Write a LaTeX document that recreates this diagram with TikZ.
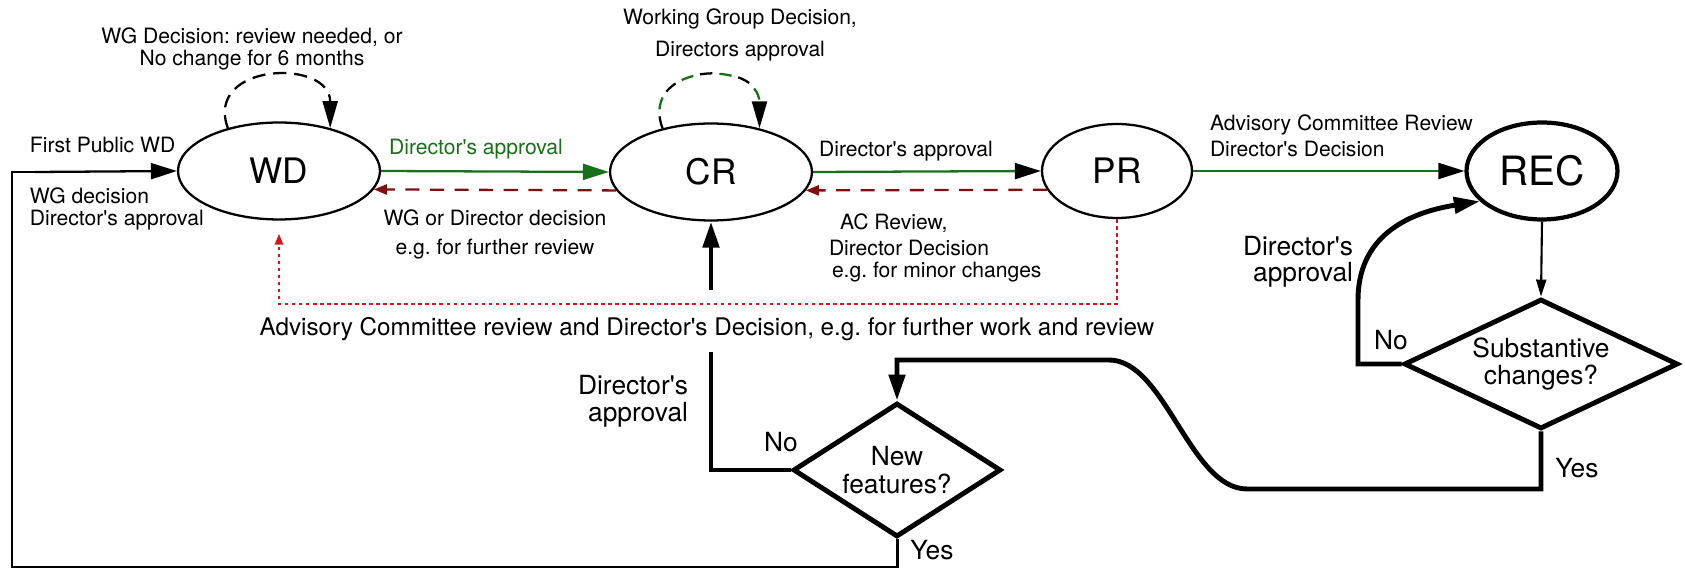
\documentclass[tikz,border=0pt]{standalone}
\usepackage{fontspec}
\setmainfont{TeX Gyre Heros}[Ligatures=TeXOff]
\usepackage{xcolor}
\usetikzlibrary{arrows.meta, automata}
\usetikzlibrary{shapes.geometric}
\usetikzlibrary{calc}
\frenchspacing

\definecolor{apprgreen}{RGB}{24,112,24}
\definecolor{backred}{RGB}{128,16,16}
\definecolor{dotred}{RGB}{208,24,24}

\begin{document}
\begin{tikzpicture}[
                x = 0.02cm, y = 0.02cm, % one unit = one pixel of the sketch
                > = {Triangle[length=0.52cm, width=0.32cm]}, % arrow head style
                line width = 1.3pt, % line style
                every node/.style = {font=\fontsize{12}{12.5}\selectfont},
                lbig/.style = {font=\fontsize{15}{15.5}\selectfont},
                thickline/.style = {line width=2.8pt},
                apprline/.style = {draw=apprgreen},
                blackhead/.style = {-{Triangle[length=0.52cm, width=0.32cm, color=black]}},
                backline/.style = {draw=backred, dash pattern=on 8pt off 6pt,
                                   -{Triangle[length=0.26cm, width=0.2cm]}},
                dotline/.style = {draw=dotred, line width=1.4pt, dash pattern=on 2pt off 2pt,
                                  -{Triangle[length=0.22cm, width=0.16cm]}},
                loopline/.style = {dash pattern=on 7.5pt off 4.5pt,
                                   -{Triangle[length=0.54cm, width=0.3cm]}}
        ]

        \tikzstyle{every state}=[
            ellipse,
            draw = black,
            line width = 1.3pt,
            minimum width = 4.04cm,
            minimum height = 1.94cm,
            inner sep = 0pt,
            font = \fontsize{20}{23}\selectfont
        ]

        \tikzstyle{decision}=[
            diamond,
            draw = black,
            line width = 2.8pt,
            inner sep = 0pt,
            align = center,
            lbig
        ]

        \useasboundingbox (0,0) rectangle (1685,-570);

        % maturity levels
        \node[state] (WD) at (279,-171) {WD};
        \node[state] (CR) at (711,-172) {CR};
        \node[state, minimum width=3cm, minimum height=1.88cm] (PR) at (1117,-171) {PR};
        \node[state, minimum width=3.02cm, line width=2.4pt,
              font=\fontsize{23}{26}\selectfont] (REC) at (1542,-171) {REC};

        % questions
        \node[decision, aspect=2.1, minimum width=5.48cm, minimum height=2.6cm] (SUB) at (1541,-364) {Substantive\\changes?};
        \node[decision, aspect=1.55, minimum width=4.16cm, minimum height=2.68cm] (NEW) at (897,-470) {New\\features?};

        % labels
        \node (wdloop) [align=center] at (252,-49) {WG Decision: review needed, or\\No change for 6 months};
        \node (crloop) [align=center] at (740,-35) {Working Group Decision,\\[6pt]Directors approval};
        \node (fpwd) [anchor=west] at (23,-145) {First Public WD};
        \node (wgdec) [anchor=west, align=left] at (23,-209) {WG decision\\Director's approval};
        \node (wdcr) [apprgreen] at (476,-149) {Director's approval};
        \node (crwd) [align=center] at (495,-234) {WG or Director decision\\[4pt]e.g. for further review};
        \node (crpr) at (906,-151) {Director's approval};
        \node (prcr) [anchor=west, align=left] at (822,-248) {\hspace*{0.22cm}AC Review,\\[2.5pt]Director Decision\\\hspace*{0.06cm}e.g. for minor changes};
        \node (prrec) [anchor=west, align=left] at (1203,-136) {Advisory Committee Review\\[2pt]Director's Decision};
        \node (acdd) [font=\fontsize{13.8}{15}\selectfont] at (707,-329) {Advisory Committee review and Director's Decision, e.g. for further work and review};
        \node (newappr) [lbig, anchor=east, align=right] at (695,-401) {Director's\\approval};
        \node (newno) [lbig] at (781,-442) {No};
        \node (newyes) [lbig] at (932,-550) {Yes};
        \node (subappr) [lbig, anchor=east, align=right] at (1360,-262) {Director's\\[-1pt]approval};
        \node (subno) [lbig] at (1391,-340) {No};
        \node (subyes) [lbig] at (1577,-468) {Yes};

        % way in
        \coordinate (entry) at (35,-172);
        \draw[line width=1.7pt] (NEW.south) |- (12,-567) |- (entry);
        \draw[->] (entry) -- (WD.west);

        % forward
        \draw[apprline, ->] (WD.east) -- (CR.west);
        \draw[apprline, blackhead] (CR.east) -- (PR.west);
        \draw[apprline, blackhead] (PR.east) -- (REC.west);

        % back
        \draw[backline] (CR.191) -- (WD.-11);
        \draw[backline] (PR.195) -- (CR.-11);
        \draw[dotline, shorten >=0.26cm] (PR.south) -- ++(0,-85) -| (WD.south);

        % self loops
        \draw[loopline] (WD.140) .. controls +(110:70) and +(90:70) .. (WD.40);
        \draw[loopline, dash pattern=on 7pt off 15pt] (CR.138) .. controls +(110:70) and +(90:70) .. (CR.42);
        \draw[loopline, -, draw=apprgreen, dash pattern=on 7pt off 15pt, dash phase=11pt,
              shorten >=0.5cm] (CR.138) .. controls +(110:70) and +(90:70) .. (CR.42);

        % after CR and REC
        \coordinate (gaplow) at (711,-352);
        \coordinate (gaphigh) at (711,-290);
        \draw[thickline] (NEW.west) -| (gaplow);
        \draw[thickline, ->] (gaphigh) -- (CR.south);
        \draw[line width=1.2pt, -{Triangle[length=0.34cm, width=0.2cm]}] (REC.south) -- (SUB.north);
        \draw[thickline, ->] (SUB.west) -- (1358,-364) -- (1358,-300)
            .. controls (1358,-238) and (1405,-213) .. (REC.206);
        \draw[thickline, ->] (SUB.south) |- (1247,-489)
            .. controls (1190,-489) and (1165,-360) .. (1109,-360) -| (NEW.north);

        \end{tikzpicture}
\end{document}
